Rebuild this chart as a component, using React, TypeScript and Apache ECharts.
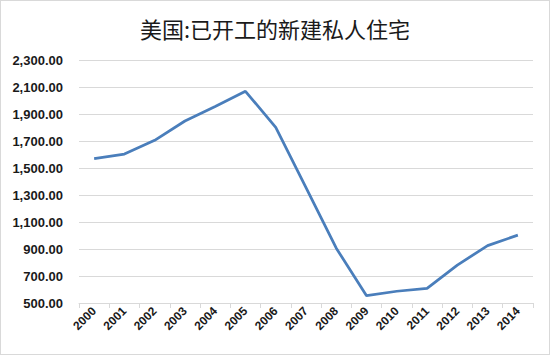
import React, { useEffect, useRef } from "react";
import * as echarts from "echarts";

const title = "美国:已开工的新建私人住宅";
const years = ["2000", "2001", "2002", "2003", "2004", "2005", "2006", "2007", "2008", "2009", "2010", "2011", "2012", "2013", "2014"];
const starts = [1569, 1603, 1705, 1848, 1956, 2068, 1801, 1355, 906, 554, 587, 609, 781, 925, 1003];
const yMin = 500;
const yMax = 2300;
const yStep = 200;

export default function App() {
  const ref = useRef<HTMLDivElement>(null);
  useEffect(() => {
    document.body.style.margin = "0";
    const chart = echarts.init(ref.current!, null, { renderer: "svg" });
    chart.setOption({
      animation: false,
      backgroundColor: "#ffffff",
      title: {
        text: title,
        left: "center",
        top: 11,
        textStyle: {
          fontFamily: "Noto Sans CJK SC",
          fontSize: 22,
          fontWeight: "normal",
          color: "#1a1a1a",
        },
      },
      grid: { left: 78, right: 16, top: 59, bottom: 51 },
      xAxis: {
        type: "category",
        data: years,
        boundaryGap: true,
        axisLine: { show: true, lineStyle: { color: "#d9d9d9", width: 1 } },
        axisTick: { show: true, length: 5, lineStyle: { color: "#d9d9d9" } },
        axisLabel: {
          rotate: 45,
          margin: 6,
          fontFamily: "Liberation Sans",
          fontWeight: "bold",
          fontSize: 12,
          color: "#1a1a1a",
        },
      },
      yAxis: {
        type: "value",
        min: yMin,
        max: yMax,
        interval: yStep,
        axisLine: { show: false },
        axisTick: { show: false },
        splitLine: { lineStyle: { color: "#d9d9d9", width: 1 } },
        axisLabel: {
          margin: 16,
          fontFamily: "Liberation Sans",
          fontWeight: "bold",
          fontSize: 13,
          color: "#1a1a1a",
          formatter: (v: number) =>
            v.toLocaleString("en-US", { minimumFractionDigits: 2, maximumFractionDigits: 2 }),
        },
      },
      series: [
        {
          type: "line",
          data: starts,
          symbol: "none",
          lineStyle: { color: "#4a7ebb", width: 2.75 },
        },
      ],
    });
    return () => chart.dispose();
  }, []);
  return (
    <div
      style={{
        position: "absolute",
        left: 0,
        top: 0,
        width: 550,
        height: 355,
        boxSizing: "border-box",
        border: "1px solid #d9d9d9",
        background: "#fff",
      }}
    >
      <div ref={ref} style={{ width: 548, height: 353 }} />
    </div>
  );
}
